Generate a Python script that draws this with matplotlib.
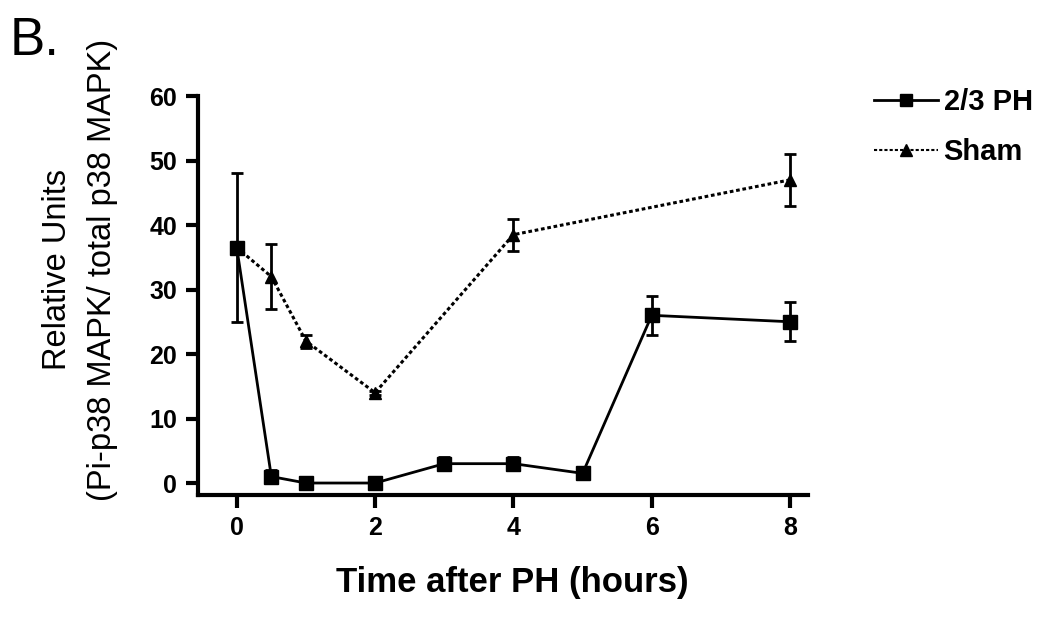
import matplotlib
matplotlib.use("Agg")
import matplotlib.pyplot as plt
from matplotlib.lines import Line2D

plt.rcParams['font.family'] = ['Liberation Sans', 'DejaVu Sans']

ph_x = [0, 0.5, 1, 2, 3, 4, 5, 6, 8]
ph_y = [36.5, 1, 0, 0, 3, 3, 1.5, 26, 25]
ph_err = [11.5, 1, 0.5, 0.5, 1, 1, 0.5, 3, 3]

sham_x = [0, 0.5, 1, 2, 4, 8]
sham_y = [36.5, 32, 22, 14, 38.5, 47]
sham_err = [0, 5, 1, 0.3, 2.5, 4]

xticks = [0, 2, 4, 6, 8]
yticks = [0, 10, 20, 30, 40, 50, 60]

fig = plt.figure(figsize=(10.5, 6.17), dpi=100)
ax = fig.add_axes([0.1886, 0.1977, 0.581, 0.6467])

ax.errorbar(sham_x, sham_y, yerr=sham_err, color='black', lw=2.2, ls=(0, (1.2, 0.9)),
            marker='^', ms=9, capsize=4.5, elinewidth=2, capthick=2, label='Sham', zorder=3)
ax.errorbar(ph_x, ph_y, yerr=ph_err, color='black', lw=2, ls='-',
            marker='s', ms=10, capsize=4.5, elinewidth=2, capthick=2, label='2/3 PH', zorder=4)

ax.set_xlim(-0.56, 8.26)
ax.set_ylim(-1.86, 60)
ax.set_xticks(xticks)
ax.set_yticks(yticks)
for s in ['top', 'right']:
    ax.spines[s].set_visible(False)
for s in ['left', 'bottom']:
    ax.spines[s].set_linewidth(3)
ax.tick_params(direction='out', length=9, width=3, labelsize=18, pad=6)
for lab in ax.get_xticklabels() + ax.get_yticklabels():
    lab.set_fontweight('bold')

fig.text(0.488, 0.0567, 'Time after PH (hours)', fontsize=25, fontweight='bold',
         ha='center', va='center')
fig.text(0.0543, 0.5624, 'Relative Units', fontsize=23.5,
         rotation=90, ha='center', va='center')
fig.text(0.098, 0.5624, '(Pi-p38 MAPK/ total p38 MAPK)', fontsize=23.5,
         rotation=90, ha='center', va='center')

handles = [Line2D([], [], color='black', lw=2, marker='s', ms=9),
           Line2D([], [], color='black', lw=1.5, ls=(0, (1.5, 1)), marker='^', ms=8)]
fig.legend(handles, ['2/3 PH', 'Sham'], loc='upper left', bbox_to_anchor=(0.807, 0.9),
           frameon=False, prop={'size': 21, 'weight': 'bold'}, handlelength=2.2,
           handletextpad=0.2, labelspacing=0.75)

fig.text(0.0095, 0.911, 'B.', fontsize=38, va='baseline', ha='left')

fig.savefig('out.png', dpi=100)
